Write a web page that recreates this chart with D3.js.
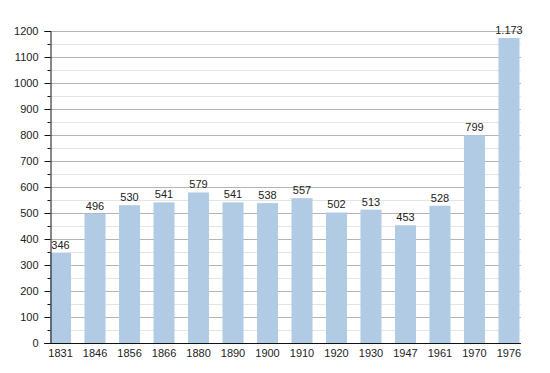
<!DOCTYPE html>
<html>
<head>
<meta charset="utf-8">
<script src="https://cdn.jsdelivr.net/npm/d3@7"></script>
<style>
  body { margin: 0; background: #fff; }
  text { font-family: "Liberation Sans", Arial, sans-serif; fill: #222; }
</style>
</head>
<body>
<div id="chart"></div>
<script>
// population per census year
let years = ["1831", "1846", "1856", "1866", "1880", "1890", "1900", "1910", "1920", "1930", "1947", "1961", "1970", "1976"];
let population = [346, 496, 530, 541, 579, 541, 538, 557, 502, 513, 453, 528, 799, 1173];
let yTicks = [0, 100, 200, 300, 400, 500, 600, 700, 800, 900, 1000, 1100, 1200];

let width = 550;
let height = 373;
let plotLeft = 50.5;
let plotRight = 521;
let plotTop = 31;
let plotBottom = 343;

let svg = d3.select("#chart")
  .append("svg")
  .attr("width", width)
  .attr("height", height);

let xScale = d3.scaleBand()
  .domain(years)
  .range([50, 519.5])
  .paddingInner(0.39)
  .paddingOuter(0);

let yScale = d3.scaleLinear()
  .domain([0, 1200])
  .range([plotBottom, plotTop]);

// minor gridlines at the 50s
let minor = d3.range(50, 1200, 100);
svg.append("g")
  .selectAll("line")
  .data(minor)
  .enter()
  .append("line")
  .attr("x1", plotLeft)
  .attr("x2", plotRight)
  .attr("y1", d => Math.round(yScale(d)) + 0.5)
  .attr("y2", d => Math.round(yScale(d)) + 0.5)
  .attr("stroke", "#e4e4e4");

// major gridlines
svg.append("g")
  .selectAll("line")
  .data(yTicks.slice(1))
  .enter()
  .append("line")
  .attr("x1", plotLeft)
  .attr("x2", plotRight)
  .attr("y1", d => Math.round(yScale(d)) + 0.5)
  .attr("y2", d => Math.round(yScale(d)) + 0.5)
  .attr("stroke", "#b4b4b4");

// bars
svg.append("g")
  .selectAll("rect")
  .data(population)
  .enter()
  .append("rect")
  .attr("x", (d, i) => xScale(years[i]))
  .attr("width", xScale.bandwidth())
  .attr("y", d => yScale(d))
  .attr("height", d => plotBottom - yScale(d))
  .attr("fill", "#b1cbe5");

// value labels
let fmt = d => d >= 1000 ? d3.format(",")(d).replace(",", ".") : String(d);
svg.append("g")
  .selectAll("text")
  .data(population)
  .enter()
  .append("text")
  .attr("x", (d, i) => xScale(years[i]) + xScale.bandwidth() / 2)
  .attr("y", d => yScale(d) - 4)
  .attr("text-anchor", "middle")
  .attr("font-size", 11)
  .text(fmt);

// y axis
let yAxis = d3.axisLeft(yScale)
  .tickValues(yTicks)
  .tickFormat(d3.format("d"))
  .tickSize(6)
  .tickPadding(6);
let yg = svg.append("g")
  .attr("transform", "translate(" + plotLeft + ",0)")
  .call(yAxis);
yg.select(".domain").attr("stroke", "#111");
yg.selectAll(".tick line").attr("stroke", "#111");
yg.selectAll(".tick text")
  .attr("font-size", 11)
  .attr("font-family", "Liberation Sans, Arial, sans-serif")
  .attr("fill", "#222");

// minor ticks on the y axis
svg.append("g")
  .selectAll("line")
  .data(minor)
  .enter()
  .append("line")
  .attr("x1", plotLeft - 3)
  .attr("x2", plotLeft)
  .attr("y1", d => Math.round(yScale(d)) + 0.5)
  .attr("y2", d => Math.round(yScale(d)) + 0.5)
  .attr("stroke", "#111");

// x axis
let xAxis = d3.axisBottom(xScale).tickSize(0).tickPadding(6);
let xg = svg.append("g")
  .attr("transform", "translate(0," + (plotBottom + 0.5) + ")")
  .call(xAxis);
xg.select(".domain").remove();
xg.selectAll(".tick text")
  .attr("font-size", 11)
  .attr("font-family", "Liberation Sans, Arial, sans-serif")
  .attr("fill", "#222");
svg.append("line")
  .attr("x1", plotLeft - 6)
  .attr("x2", plotRight)
  .attr("y1", plotBottom + 0.5)
  .attr("y2", plotBottom + 0.5)
  .attr("stroke", "#111");
</script>
</body>
</html>
